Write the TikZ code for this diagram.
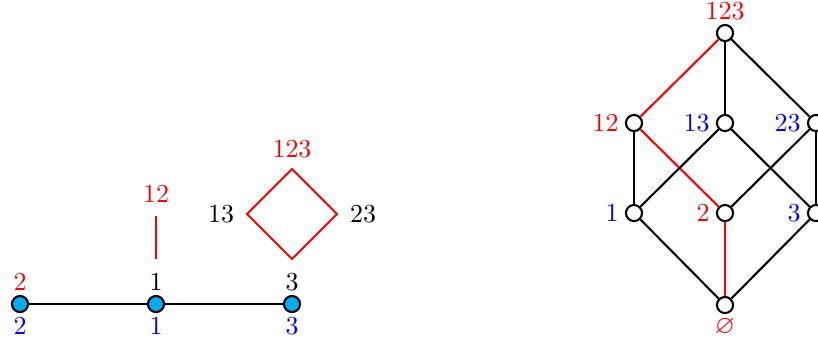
\documentclass[tikz,border=0pt]{standalone}
\usepackage{amssymb}
\definecolor{nodecyan}{RGB}{0,174,239}
\begin{document}
\begin{tikzpicture}[x=0.385pt,y=-0.385pt,
  edge/.style={line width=0.8pt},
  redge/.style={line width=0.8pt,red},
  cnode/.style={circle,draw,line width=0.8pt,fill=nodecyan,minimum size=6.2pt,inner sep=0pt},
  wnode/.style={circle,draw,line width=0.8pt,fill=white,minimum size=6.2pt,inner sep=0pt},
  lbl/.style={inner sep=0pt},
  every label/.style={inner sep=0pt}]
\useasboundingbox (0,0) rectangle (818,342);
% left: path graph
\node[cnode] (a) at (20,304) {};
\node[cnode] (b) at (156,304) {};
\node[cnode] (c) at (292,304) {};
\draw[edge] (a) -- (b) (b) -- (c);
\node[lbl,red] (a1) at (20,282) {2};
\node[lbl] (b1) at (156,282) {1};
\node[lbl] (c1) at (292,282) {3};
\node[lbl,blue] (a2) at (20,326) {2};
\node[lbl,blue] (b2) at (156,326) {1};
\node[lbl,blue] (c2) at (292,326) {3};
% red segment
\coordinate (s1) at (156,216);
\coordinate (s2) at (156,259);
\draw[redge] (s1) -- (s2);
\node[lbl,red] (l12) at (156,194) {12};
% diamond
\coordinate (dt) at (292,169);
\coordinate (dl) at (247,214);
\coordinate (dr) at (337,214);
\coordinate (db) at (292,259);
\draw[redge,line join=miter] (dt) -- (dr) -- (db) -- (dl) -- cycle;
\node[lbl,red] (l123) at (292,149) {123};
\node[lbl] (l13) at (221,214) {13};
\node[lbl] (l23) at (363,214) {23};
% right: lattice
\node[wnode,label={[red,label distance=1.4pt]above:123}] (t) at (725,33) {};
\node[wnode,label={[red,label distance=2.2pt]left:12}] (n12) at (634,123) {};
\node[wnode,label={[blue,label distance=2.2pt]left:13}] (n13) at (725,123) {};
\node[wnode,label={[blue,label distance=2.2pt]left:23}] (n23) at (816,123) {};
\node[wnode,label={[blue,label distance=2.2pt]left:1}] (n1) at (634,213) {};
\node[wnode,label={[red,label distance=2.2pt]left:2}] (n2) at (725,213) {};
\node[wnode,label={[blue,label distance=2.2pt]left:3}] (n3) at (816,213) {};
\node[wnode,label={[red,label distance=1.5pt]below:$\varnothing$}] (e) at (725,305) {};
\draw[redge] (t) -- (n12);
\draw[redge] (n12) -- (n2);
\draw[redge] (n2) -- (e);
\draw[edge] (t) -- (n13);
\draw[edge] (t) -- (n23);
\draw[edge] (n12) -- (n1);
\draw[edge] (n13) -- (n1);
\draw[edge] (n13) -- (n3);
\draw[edge] (n23) -- (n2);
\draw[edge] (n23) -- (n3);
\draw[edge] (n1) -- (e);
\draw[edge] (n3) -- (e);
\end{tikzpicture}
\end{document}
